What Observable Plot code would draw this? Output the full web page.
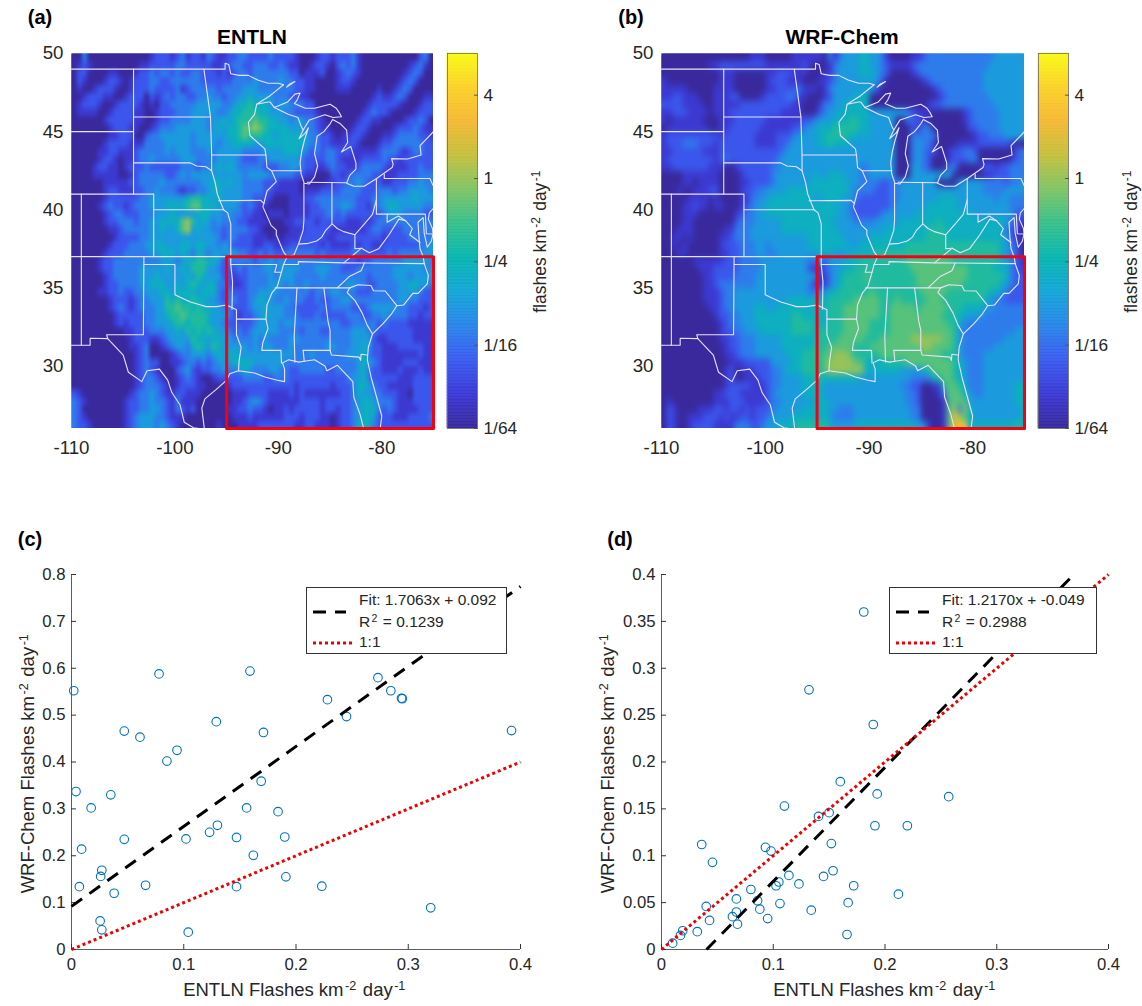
<!DOCTYPE html>
<html><head><meta charset="utf-8">
<script src="https://cdn.jsdelivr.net/npm/d3@7"></script>
<script src="https://cdn.jsdelivr.net/npm/@observablehq/plot@0.6"></script>
<style>
html,body{margin:0;padding:0;background:#fff}
#page{position:relative;width:1142px;height:1006px;overflow:hidden;font-family:"Liberation Sans",Arial,sans-serif;color:#262626}
#page>svg{position:absolute}
.t{position:absolute;white-space:nowrap;transform:translate(-50%,-50%)}
.r{transform:translate(-50%,-50%) rotate(-90deg)}
.b{font-weight:bold;color:#000}
sup{font-size:.68em;line-height:0;vertical-align:baseline;position:relative;top:-.5em;margin:0 .12em}
.legend{position:absolute;background:#fff;border:1px solid #333;box-sizing:border-box;font-size:15.5px;color:#262626}
.legend span{position:absolute;white-space:nowrap}
.legend svg{position:absolute;left:0;top:0}
</style></head><body><div id="page"></div>
<script>
// Each row is a latitude band of half a degree from 50N down, each group of ten is five degrees of longitude from 110W.
// Character d stands for a density of 2^(-6 + 0.75*d).
const entlnRows = [
"0030000000 0000012221 2312213211 2233222232 2221000122 1222310000 0000000230",
"0121000000 0001122222 3322222112 2332233322 3211001221 0232310000 0000012310",
"0220000110 0012232332 3223322212 1233233333 3322011120 0123210000 0000123200",
"0210001221 0122233223 3333322222 2333343333 4332211000 0122100000 0001232000",
"0100122210 0122232222 3123333323 3334443333 3332211000 0111000001 0012320000",
"0012221100 1222021232 3322334332 3344544443 3322110000 0000000012 1123200011",
"0122210012 2221010223 3333444443 3455655543 4433322000 0000000122 2221000122",
"0111100122 2211001222 3334444433 4556665544 4332222100 0000001232 2100001222",
"0000001222 2211001223 3334443445 4566676655 4434433210 0000012211 0000122320",
"0000000122 2110012333 4444443454 5567787655 5544433211 0000122100 0012223211",
"0000000112 2200233444 4443444444 5567666554 5555543322 1011221000 1123333221",
"0000001222 2111333344 4443444434 4555544555 5555543322 1112210001 2233333322",
"0000011221 1123333343 4443334344 4443333444 4555432323 3222111112 3332123322",
"0000012210 1123343333 3444333344 4432223344 4444322223 3211112222 3221222222",
"0000122110 1222322222 2333233454 5433333222 3344322112 3221123333 2111122322",
"0000111110 0123333322 3434444444 4443444433 3332211000 2212333322 1112222333",
"0000001111 1223333433 3333344554 5443333222 1111000001 1223343222 1122233433",
"0000001221 1122334333 2122334554 4443333221 1111011122 2233332223 3323344443",
"0000001222 2223344444 4456655454 4443322210 0011122333 3333322233 4444445444",
"0000012322 1233344455 5567755544 4432321100 0011112233 3344322133 4554444433",
"0000001233 2223334445 4444555443 4332211011 1011112223 3232222222 3444333322",
"0000001223 3323344555 5786454343 3322111100 0112222122 2221112123 3333333333",
"0000000112 3333344544 5784544332 3333221000 0011122222 1111111233 2222333333",
"0000000012 2223344444 4444444432 3322211101 0111222221 1222222222 1222233333",
"0000000122 2333445544 4554554434 3222211221 1122222212 1111212211 2222222334",
"0000001222 3333344555 4543543444 4433223232 2333333232 2222332222 2323333344",
"0000012233 3333333444 3455665542 3333323343 4333333333 3332212233 3333444443",
"0000012233 3334444454 4546664432 2232333443 4444333444 3322233333 3344444434",
"0000001233 3334445444 4454654442 2122333343 4443333343 3333333233 3344434444",
"0000001223 3334455544 5456545533 2112333344 4343343333 3334433223 3334455443",
"0000011223 2233444554 5555455532 3222334444 3333332333 4433322233 3334444322",
"0000000122 2123344465 6556554432 3322345443 3433322322 3344333333 3334433222",
"0000000123 2123334466 7665655443 3222344544 4332222232 3333222344 4443322212",
"0000000012 2222334456 6766665444 3212234544 4333222322 2223332233 4333322122",
"0000000012 1222334445 6656665443 2222234444 3443333333 3322333332 3222211111",
"0000000000 1122233344 5465656544 3232344444 3333233322 3333444332 2222221111",
"0000000000 0122211234 4446554554 4333343433 3344333333 3333444421 1222221111",
"0000000000 0112300123 4435654654 4444343443 3343333334 4333445422 1112222211",
"0000000000 0012300001 2334443454 5544444444 4443334333 3334445322 1111111211",
"0000000000 0012322001 1233232344 4555544444 4333333333 3333345432 1111222111",
"0000000000 0012321000 2342122334 3345433344 3322333332 2333345322 1112111211",
"0000000000 0012332100 1232100122 2223333223 3322222222 2223445322 2221112222",
"0000000000 0012333210 1222110000 1222222222 2221222222 1222355432 2111112222",
"2100000000 0123343211 2211100000 0111222211 1121211111 1122354433 2221102222",
"3210000000 1223343321 3111000000 0112343211 1111222212 2222345543 3321112222",
"3200000000 1223344321 3212000000 1122322101 1212222212 2122345553 2321111222",
"3210000000 1234443321 1100000000 0111211111 1222122211 0122345542 2211122223",
"3221000000 1234443432 1000000010 0011112222 2221122111 0122355532 2222222222"];
const wrfRows = [
"0000000000 0000000111 0000011111 1031344455 4431000011 2333333333 3333444444",
"0000000001 1222222222 1111111210 0013444455 4432111123 3333333333 3334444444",
"0000000000 0111000000 1122211100 0113444455 5432000012 3333333333 3344444444",
"1000000000 0111000000 1222111000 1123444444 4420000000 1233333333 3344444444",
"1111100000 1111000000 1122223111 0134444445 4200000000 0012333333 3344444444",
"1122111000 1112200001 2222331100 0124444555 0000000000 0001233333 3334444444",
"2222111100 1111122222 2222211000 1334455555 0000000000 0122333333 3333444444",
"1122211110 1112222222 2221111000 2344555555 4444444321 1100000012 3333344444",
"1011111100 0111222222 1111111223 4445556655 4444400322 1000000012 3333344444",
"0111111110 0112222221 1111122344 5556666655 4444400021 3300000002 2333344444",
"1222222222 2122222211 1122234444 5566665545 4444400033 3330000000 1223334444",
"1222333222 1222222211 1122344444 5565554444 4444400034 3310000111 1222222100",
"1122222211 1222222222 2223444444 4444444444 4444400034 3220012233 2000000023",
"1222222222 1232222222 2234444444 4444444444 4444400034 3200012223 3000000123",
"1122222221 1100122222 2334444444 4444444433 4444400044 3200033000 0122122333",
"0000111111 1000012222 2344444445 4455544433 4444400044 4444440000 0011222333",
"0000110111 1000011222 2344444445 5555554433 3322334444 4440000444 4433332334",
"0001001112 2000012233 4444555555 5555554333 3222334444 4444444444 4433334444",
"0000011110 1000011334 4555555554 4555544322 2222334444 4445555444 4444344333",
"0000112110 1100012344 5555555555 5555443222 2222344444 4555555444 4444444333",
"0000111000 0000123344 5555555555 5555443222 2234444445 5555555555 4444444422",
"0000110000 0000233344 4445555555 5554444333 3444445555 5556555555 5555554321",
"0001110000 0011333444 4445555555 5555444444 4445555555 5666655555 5555553210",
"0011010000 0112333444 4444444455 5555544444 5555555555 5666655555 5555554210",
"0010100000 0122233344 3444444455 5555554455 5555555666 6666666666 6666654320",
"0001100000 0112233344 3344444444 5554445555 5666666666 6666666666 6666654320",
"0000001111 1122233334 4444444433 3244455566 6666666777 7777776666 6666654321",
"0000000111 2222233334 4444444421 1234455666 6666666677 7777777776 6666555321",
"0000000011 2222333344 4444444444 1134566667 6666666667 7777777776 6666665322",
"0000000011 2333333344 4444444431 1134566666 6666666667 7777777766 6666654322",
"0000000011 1233444444 4444444433 3455666666 7666666666 7777766666 6665543222",
"0000000011 1233444444 4444555555 5566666777 7766676666 6777666666 6654332222",
"0000000001 1233444455 4455555555 5566677777 7766777776 7777766655 5544333333",
"0000000000 1223344455 5555566555 5566677777 7766777777 7777666554 4433333333",
"0000000000 0123344455 5555566665 5566677777 6666777777 7777766533 3333333333",
"0000000000 0122334445 5555566665 6666677777 6666777777 7777776433 3333333344",
"0000000000 0112233344 4445555555 6666777776 6677777788 8888776433 3333334444",
"0000000000 0012233344 4445555556 6677777666 7777777777 8877776433 3333444444",
"0000000000 0011233344 4444555666 6778887666 6677777777 7777666433 3344444444",
"0000000000 0001112222 2444455666 6788888775 5556666777 7777776543 3344444444",
"0000000000 0012011122 2334555666 6788888885 5555554444 5677776543 3344444444",
"0000000000 0012001112 2334444556 6555555544 4444444433 3356776543 3344444444",
"0000000000 0012222111 2334444555 5444444444 4444443322 0011677653 3344444455",
"0000000000 1122211111 2344444555 5444444444 4444444332 0001377754 3344444455",
"0100000000 1112221111 2334444445 5544444444 4444444332 0000177774 4444444455",
"0210000111 2212212122 2344444555 5544333444 4444444433 0000178385 4444444445",
"0210011122 2121122122 3444455555 5543333444 4444444433 000017A875 4444444445",
"0210012222 1111333223 4455556666 6654444555 5555555554 4100179AA5 5555555565"];

const gridCols = 70, gridRows = 48;
const mapLon = [-110, -75], mapLat = [50, 26];
const colorDomain = [1/64, 8];
const colorTicks = [1/64, 1/16, 1/4, 1, 4];
const colorTickLabels = ["1/64", "1/16", "1/4", "1", "4"];
const parula = ["#39299c","#3c3ad6","#3b5cf0","#2a86ea","#14a6d6","#08b6b0","#38c08c","#80c566","#c5c03e","#f5b935","#fcd22a","#f9fb15"];

const boxLon = [-95,-75,-75,-95,-95];
const boxLat = [37,37,26,26,37];

// state lines and shore, lon/lat pairs
const border = [
[[-110,49],[-95.15,49],[-95.15,49.38],[-94.8,49.3],[-94.6,48.7],[-93.8,48.6],[-92.9,48.6],[-92,48.3],[-91,48.1],[-90,48.1],[-89.5,48]],
[[-89.2,47.85],[-88.4,48.2],[-88.9,48.05],[-89.2,47.85]],
[[-89.5,48],[-90.8,47.3],[-92.1,46.75],[-91,46.9],[-90.8,46.9],[-90.4,46.55],[-89.1,46.9],[-88.4,47.4],[-87.9,47.47],[-88.2,47],[-88.45,46.8],[-87.4,46.5],[-86.5,46.5],[-85,46.75],[-84.4,46.5],[-84.1,46.2],[-83.9,45.95],[-84.7,45.9],[-85.5,46.08],[-86.5,45.85],[-87,45.75],[-87.6,45.1],[-88,44.55],[-87.4,44.9],[-87.1,45.25],[-87.5,44.4],[-87.75,43.7],[-87.9,43],[-87.8,42.3],[-87.5,41.7],[-87,41.65],[-86.5,42.1],[-86.2,42.8],[-86.5,43.6],[-86.25,44.7],[-85.6,45],[-85,45.5],[-84.75,45.78],[-84,45.5],[-83.4,45.1],[-83.3,44.3],[-83.9,43.7],[-83,44.05],[-82.5,43],[-82.5,42.6],[-83.1,42.2],[-83.4,41.7],[-82.7,41.5],[-81.7,41.5],[-80.5,42],[-79,42.7],[-78.9,42.9],[-79.05,43.27],[-77.5,43.25],[-76.2,43.5],[-76.3,44.1],[-75,45]],
[[-104,49],[-104,41]],[[-110,45],[-104,45]],[[-104,45.94],[-96.56,45.94]],
[[-111,41],[-102.05,41],[-102.05,37]],[[-102.05,40],[-95.3,40]],[[-110,37],[-94.6,37]],
[[-109.05,41],[-109.05,31.33],[-110,31.33]],
[[-109.05,31.33],[-108.2,31.33],[-108.2,31.78],[-106.5,31.75],[-106.6,32],[-103.05,32],[-103,37]],
[[-103,36.5],[-100,36.5],[-100,34.56],[-99.5,34.4],[-98.5,34.1],[-97.5,33.9],[-97,33.8],[-96,33.8],[-95,33.9],[-94.05,33.6],[-94.05,32],[-93.6,31.2],[-93.8,30.3],[-93.85,29.7]],
[[-94.6,37],[-94.6,36.5],[-94.43,35.4],[-94.48,33.64]],[[-94.05,33],[-91.2,33]],
[[-92.1,46.75],[-92.3,46.1],[-92.9,45.6],[-92.75,44.75],[-91.3,43.9],[-91.2,43.5],[-91.1,42.7],[-90.65,42.5],[-90.2,41.8],[-91.1,41.2],[-91.4,40.4],[-91.5,40.2],[-90.7,39],[-90.2,38.7],[-90.2,38.4],[-89.5,37.3],[-89.15,37],[-89.5,36.5],[-89.7,36],[-90.1,35.1],[-90.6,34.7],[-91.1,33.9],[-91.2,33],[-91,32.4],[-91.5,31.5],[-91.6,31],[-89.75,31],[-89.7,30.2]],
[[-96.45,43.5],[-91.2,43.5]],[[-97.2,49],[-96.56,45.94],[-96.45,43.5],[-96.45,42.5],[-96.1,41.7],[-95.9,41],[-95.3,40],[-94.9,39.8],[-94.6,39.1],[-94.6,37]],
[[-104,43],[-98.5,43],[-97.9,42.8],[-97,42.75],[-96.45,42.5]],[[-95.77,40.58],[-91.7,40.6],[-91.4,40.4]],
[[-94.6,36.5],[-90.15,36.5],[-90.35,36],[-89.7,36]],
[[-89.5,36.5],[-88.07,36.5],[-88.07,36.68],[-83.68,36.6],[-81.68,36.59],[-75.87,36.55]],
[[-81.68,36.59],[-82,36.1],[-83.1,35.75],[-84.3,35]],[[-90.3,35],[-83.1,35]],
[[-88.2,35],[-88.47,31.9],[-88.4,30.25]],[[-85.6,35],[-85.2,32.87],[-85,32.3],[-85,31],[-84.86,30.7],[-82.2,30.57],[-82.05,30.36],[-82,30.75],[-81.45,30.7]],
[[-87.6,31],[-85,31]],[[-87.6,31],[-87.5,30.3]],
[[-83.1,35],[-83.35,34.7],[-82.6,34.2],[-81.9,33.4],[-81.4,32.6],[-80.9,32.05]],
[[-83.1,35],[-82.3,35.2],[-81.05,35.15],[-80.8,34.82],[-79.67,34.8],[-78.55,33.86]],
[[-97.15,25.95],[-97.4,27.3],[-97.1,27.9],[-96,28.5],[-95,29.1],[-94.7,29.5],[-93.85,29.7],[-92.3,29.55],[-91.3,29.3],[-90.2,29.1],[-89.4,29],[-89.4,29.8],[-89.6,30.2],[-89,30.4],[-88,30.25],[-87.5,30.3],[-86.5,30.4],[-85.5,30],[-85.3,29.7],[-84.3,30.05],[-83.5,29.5],[-82.8,29],[-82.7,28],[-82.1,26.9],[-81.75,26]],
[[-80.15,26],[-80,26.8],[-80.5,28],[-81,29.2],[-81.4,30.4],[-81.3,31.2],[-80.9,32.05],[-79.9,32.7],[-79.1,33.3],[-78.55,33.86],[-77.9,33.9],[-77,34.65],[-76.5,34.65],[-75.6,35.25],[-75.5,35.8],[-75.9,36.55],[-76,37],[-76.3,37.5],[-76.4,38.2],[-76.5,39.2],[-76,39.5],[-75.9,38.5],[-75.6,37.6],[-75.2,38],[-75.05,38.45],[-75.1,38.8],[-75.5,39.4],[-75.4,39.8],[-75,40.1]],
[[-106.5,31.75],[-105,30.7],[-104.5,29.6],[-103.2,29],[-102.7,29.7],[-101.5,29.8],[-100.7,29.1],[-100.3,28.3],[-99.5,27.5],[-99.1,26.4],[-98.2,26.05],[-97.15,25.95]],
[[-89.15,37],[-88.5,37.1],[-88.05,37.8],[-87.1,37.85],[-86.3,38],[-85.8,38.25],[-85.4,38.7],[-84.8,39.1],[-84.3,38.8],[-83.7,38.6],[-82.6,38.4],[-81.8,39],[-80.9,39.7],[-80.52,40.64]],
[[-80.52,41.98],[-80.52,39.72],[-75.79,39.72],[-75.69,38.46],[-75.05,38.45]],
[[-79.48,39.72],[-79.48,39.2],[-78.4,39.6],[-77.7,39.3]],
[[-82.6,38.4],[-82.6,37.5],[-81.97,37.54],[-83.68,36.6]],
[[-81.97,37.54],[-81.2,37.25],[-80.3,37.5],[-79.3,38.4],[-78.35,39.4],[-77.7,39.3],[-77.05,38.8],[-77.3,38.4],[-76.3,37.9]],
[[-79.76,42.27],[-79.76,42],[-75.35,42],[-75,41.5]],
[[-87.53,41.7],[-87.53,39.35],[-87.6,38.7],[-88.05,37.8]],[[-84.82,41.76],[-84.82,39.1]],[[-87.2,41.76],[-83.45,41.73]],
[[-90.65,42.5],[-87.8,42.5]],[[-90.4,46.55],[-89,46.1],[-88.1,45.9],[-87.8,45.35],[-87.6,45.1]]
];

const cX = [.002,.004,.0175,.009,.007,.027,.026,.0255,.027,.038,.035,.047,.047,.061,.066,.078,.085,.094,.102,.104,.123,.130,.129,.147,.147,.156,.159,.162,.169,.171,.184,.190,.191,.223,.228,.245,.273,.2845,.294,.2947,.320,.392];
const cY = [.552,.337,.302,.214,.134,.169,.156,.061,.042,.120,.330,.466,.235,.453,.137,.588,.402,.425,.236,.037,.250,.265,.486,.239,.134,.302,.594,.201,.359,.463,.294,.240,.155,.135,.533,.497,.580,.552,.536,.535,.089,.467];
const dX = [.010,.017,.019,.032,.036,.040,.0456,.043,.0635,.067,.067,.068,.080,.086,.088,.093,.095,.098,.1025,.105,.106,.110,.114,.123,.132,.134,.1405,.145,.150,.152,.1535,.160,.166,.167,.172,.181,.1895,.191,.193,.212,.220,.257];
const dY = [.0068,.015,.020,.019,.112,.046,.093,.031,.035,.040,.054,.027,.064,.052,.043,.109,.033,.105,.068,.072,.049,.153,.079,.070,.277,.042,.142,.078,.146,.113,.084,.179,.016,.050,.068,.360,.240,.132,.166,.059,.132,.163];
const cFit = [[0,.092],[.4,.7745]];
const dFit = [[.0403,0],[.369,.4]];
const oneToOne = [[0,0],[.4,.4]];
const cTicksY = [0,.1,.2,.3,.4,.5,.6,.7,.8];
const dTicksY = [0,.05,.1,.15,.2,.25,.3,.35,.4];
const ticksX = [0,.1,.2,.3,.4];
const lonTicks = [-110,-100,-90,-80];
const latTicks = [30,35,40,45,50];

const page = document.getElementById("page");
const ink = "#262626";
const colorScale = {type:"log", base:2, domain:colorDomain, clamp:true, interpolate:d3.piecewise(d3.interpolateRgb, parula)};
const decode = rows => rows.flatMap(r => Array.from(r.replace(/ /g,"").padEnd(gridCols,"0").slice(0,gridCols), c => 2 ** (-6 + 0.75*parseInt(c,16))));

function place(svg, x, y){ svg.style.left = x+"px"; svg.style.top = y+"px"; page.appendChild(svg); return svg; }
function text(html, x, y, size, cls=""){
  const d = document.createElement("div");
  d.className = "t "+cls; d.style.left = x+"px"; d.style.top = y+"px"; d.style.fontSize = size+"px"; d.innerHTML = html;
  page.appendChild(d);
}
function mapPlot(rows, ox, frameW, blurPx){
  const values = decode(rows);
  const rasterOpts = {width:gridCols, height:gridRows, x1:mapLon[0], x2:mapLon[1], y1:mapLat[0], y2:mapLat[1], clip:"frame"};
  const svg = place(Plot.plot({
    width:71+frameW+12, height:465, marginLeft:71, marginRight:12, marginTop:53, marginBottom:37,
    style:{background:"transparent", fontFamily:"Liberation Sans", color:ink, overflow:"visible"},
    x:{domain:mapLon, axis:null}, y:{domain:[26,50], axis:null}, color:colorScale,
    marks:[
      Plot.raster(values, rasterOpts),
      Plot.raster(values, rasterOpts),
      ...border.map(b => Plot.line(b, {x:"0", y:"1", stroke:"#e6e2fa", strokeWidth:1.1, clip:"frame"})),
      Plot.line(boxLon.map((d,i)=>[d,boxLat[i]]), {x:"0", y:"1", stroke:"#f5000f", strokeWidth:3}),
      Plot.axisX(lonTicks, {anchor:"bottom", tickSize:0, tickPadding:12, fontSize:18.7, tickFormat:d=>String(d), label:null}),
      Plot.axisY(latTicks, {anchor:"left", tickSize:0, tickPadding:8, fontSize:18.7, tickFormat:d=>String(d), label:null})
    ]}), ox, 0);
  // soften the second copy so the cell grid does not show; the first copy keeps the frame edge crisp
  svg.querySelectorAll("image")[1].style.filter = `blur(${blurPx}px)`;
  return svg;
}
function colorbar(ox){
  const levels = d3.range(0,257).map(i => 2 ** (-6 + 9*i/256));
  place(Plot.plot({
    width:80, height:465, marginLeft:0, marginRight:50, marginTop:53, marginBottom:37,
    style:{background:"transparent", fontFamily:"Liberation Sans", color:ink, overflow:"visible"},
    x:{domain:[0,1], axis:null}, y:{type:"log", base:2, domain:colorDomain, axis:null}, color:colorScale,
    marks:[
      Plot.rect(levels.slice(0,-1), {x1:0, x2:1, y1:d=>d, y2:(d,i)=>levels[i+1], fill:d=>d, stroke:d=>d, strokeWidth:.6}),
      Plot.frame({stroke:"#6d6d6d", strokeWidth:.8}),
      Plot.axisY(colorTicks, {anchor:"right", tickSize:-4, tickPadding:10, fontSize:17.3, label:null, stroke:"#555",
        tickFormat:d=>colorTickLabels[colorTicks.indexOf(d)]})
    ]}), ox, 0);
}
function scatter(xs, ys, fit, yMax, yTicks, ox, frameW, yFmt){
  place(Plot.plot({
    width:71+frameW+26, height:475, marginLeft:71, marginRight:26, marginTop:54, marginBottom:46,
    style:{background:"transparent", fontFamily:"Liberation Sans", color:ink, overflow:"visible"},
    x:{domain:[0,.4], axis:null}, y:{domain:[0,yMax], axis:null},
    marks:[
      Plot.ruleX([0], {stroke:"#333", strokeWidth:.8}),
      Plot.ruleY([0], {stroke:"#333", strokeWidth:.8}),
      Plot.axisX(ticksX, {anchor:"bottom", tickSize:-5, tickPadding:14, fontSize:16.7, label:null, tickFormat:d=>String(d), stroke:"#333"}),
      Plot.axisY(yTicks, {anchor:"left", tickSize:-5, tickPadding:11, fontSize:16.7, label:null, tickFormat:yFmt, stroke:"#333"}),
      Plot.dot(xs.map((d,i)=>[d,ys[i]]), {x:"0", y:"1", r:4.3, stroke:"#0072BD", strokeWidth:1.1, fill:"none"}),
      Plot.line(fit, {x:"0", y:"1", stroke:"#000", strokeWidth:3, strokeDasharray:"13,9", strokeLinecap:"butt"}),
      Plot.line(oneToOne, {x:"0", y:"1", stroke:"#ee0000", strokeWidth:3, strokeDasharray:"3,3", strokeLinecap:"butt"})
    ]}), ox, 520);
}
function legend(x, y, w, h, l1, l2){
  const d = document.createElement("div");
  d.className = "legend"; Object.assign(d.style, {left:x+"px", top:y+"px", width:w+"px", height:h+"px"});
  d.innerHTML = `<svg width="${w}" height="${h}"><line x1="6" x2="39" y1="24" y2="24" stroke="#000" stroke-width="3" stroke-dasharray="13,9"/><line x1="6" x2="46" y1="55" y2="55" stroke="#ee0000" stroke-width="3" stroke-dasharray="3,3"/></svg>
  <span style="left:52px;top:3px">${l1}</span><span style="left:52px;top:25px">${l2}</span><span style="left:52px;top:45px">1:1</span>`;
  page.appendChild(d);
}

mapPlot(entlnRows, 0, 362, 1.2); colorbar(447);
mapPlot(wrfRows, 590, 363, 2.5); colorbar(1038);
scatter(cX, cY, cFit, .8, cTicksY, 0, 449, d=>String(d));
scatter(dX, dY, dFit, .4, dTicksY, 590, 447, d=>String(d));
legend(306,587,201,67,"Fit: 1.7063x + 0.092","R<sup>2</sup> = 0.1239");
legend(889,587,208,67,"Fit: 1.2170x + -0.049","R<sup>2</sup> = 0.2988");

const unit = "km<sup>-2</sup> day<sup>-1</sup>";
text("(a)",40,17,20,"b"); text("(b)",631,17,20,"b"); text("(c)",30,539,20,"b"); text("(d)",620,539,20,"b");
text("ENTLN",252,37,21,"b"); text("WRF-Chem",842,37,21,"b");
text("flashes "+unit,540,241,17.5,"r"); text("flashes "+unit,1131,241,17.5,"r");
text("WRF-Chem Flashes "+unit,28,763,18.5,"r"); text("WRF-Chem Flashes "+unit,608,763,18.5,"r");
text("ENTLN Flashes "+unit,295,990,18.5); text("ENTLN Flashes "+unit,885,990,18.5);
</script></body></html>
